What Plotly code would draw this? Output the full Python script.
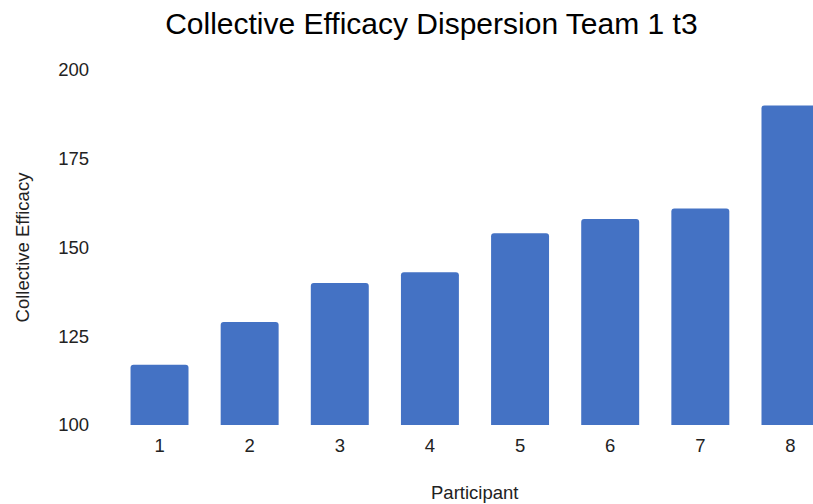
import plotly.graph_objects as go

# Collective efficacy score per participant (Team 1, time 3)
participants = [1, 2, 3, 4, 5, 6, 7, 8]
efficacy = [117, 129, 140, 143, 154, 158, 161, 190]
y_ticks = [100, 125, 150, 175, 200]

bar_color = "#4472c4"
font_family = "Liberation Sans, Arial, sans-serif"

fig = go.Figure(
    go.Bar(
        x=participants,
        y=efficacy,
        marker=dict(color=bar_color, line=dict(width=0)),
        width=0.643,
    )
)

fig.update_layout(
    width=813,
    height=504,
    margin=dict(l=114, r=0, t=70, b=79),
    paper_bgcolor="white",
    plot_bgcolor="white",
    barcornerradius=3,
    showlegend=False,
    font=dict(family=font_family, color="#222222", size=18.5),
    title=dict(
        text="Collective Efficacy Dispersion Team 1 t3",
        x=0.5306,
        xanchor="center",
        y=0.954,
        yanchor="middle",
        font=dict(family=font_family, size=30, color="#000000"),
    ),
    xaxis=dict(
        range=[0.495, 8.25],
        tickmode="array",
        tickvals=participants,
        ticktext=[str(p) for p in participants],
        showgrid=False,
        zeroline=False,
        showline=False,
        ticks="",
        ticklabelstandoff=7,
    ),
    yaxis=dict(
        range=[100, 200],
        tickmode="array",
        tickvals=y_ticks,
        showgrid=False,
        zeroline=False,
        showline=False,
        ticks="",
        ticklabelstandoff=24,
        title=dict(text="Collective Efficacy", font=dict(size=18.5, color="#222222"), standoff=23),
    ),
    annotations=[
        dict(
            text="Participant",
            xref="paper",
            yref="paper",
            x=0.516,
            y=-0.19,
            xanchor="center",
            yanchor="middle",
            showarrow=False,
            font=dict(size=18.5, color="#222222"),
        )
    ],
)

fig.write_html("out.html")
